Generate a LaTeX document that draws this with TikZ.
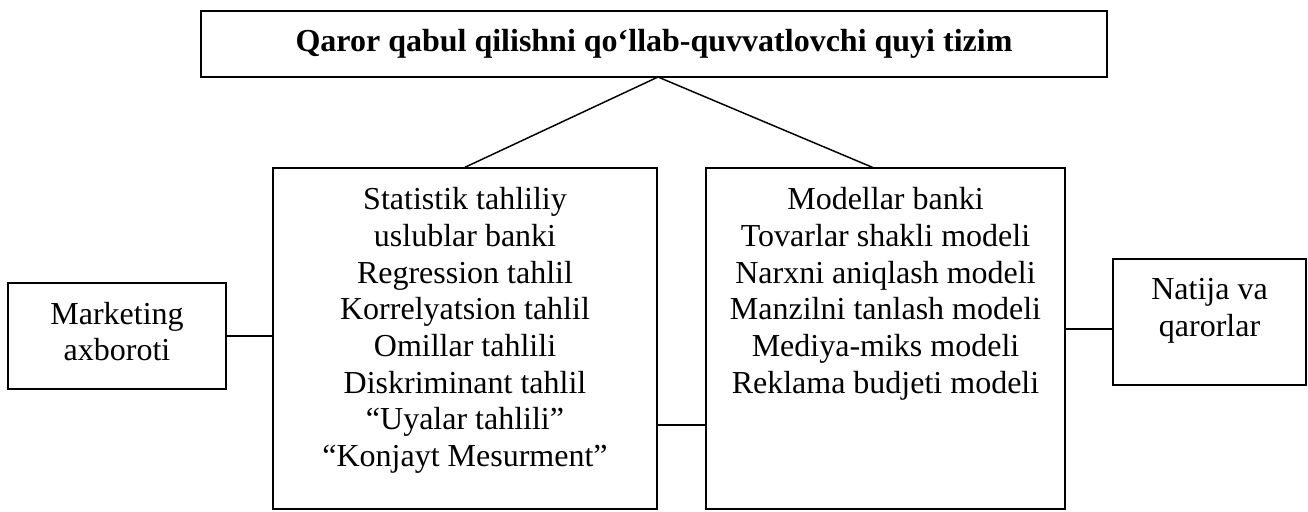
\documentclass[tikz,border=0pt]{standalone}
\usepackage{fontspec}
\setmainfont{Liberation Serif}
\usetikzlibrary{calc}
\begin{document}
\begin{tikzpicture}[x=0.75pt,y=-0.75pt,
  frame/.style={draw, line width=1.1pt, inner sep=0pt},
  body/.style={inner sep=0pt, align=center, anchor=north,
    font=\fontsize{24pt}{27.5pt}\selectfont},
  link/.style={line width=1.1pt}]
\useasboundingbox (0,0) rectangle (1308,511);

% heading box
\node[frame, minimum width=679.5pt, minimum height=49.5pt,
      font=\fontsize{24pt}{27.5pt}\selectfont\bfseries] (sub) at (654,44)
  {Qaror qabul qilishni qo‘llab-quvvatlovchi quyi tizim};

% input, method bank, model bank, output frames
\node[frame, minimum width=163.5pt, minimum height=79.5pt] (mkt) at (117,336) {};
\node[frame, minimum width=288pt, minimum height=255.75pt] (stat) at (465,338.5) {};
\node[frame, minimum width=269.25pt, minimum height=255.75pt] (model) at (885.5,338.5) {};
\node[frame, minimum width=144.75pt, minimum height=94.5pt] (res) at (1209.5,322) {};

% their texts, set from the top edge
\node[body] (mktT) at ([yshift=-14.5pt]mkt.north) {Marketing\\axboroti};
\node[body] (statT) at ([yshift=-15pt]stat.north)
  {Statistik tahliliy\\uslublar banki\\Regression tahlil\\Korrelyatsion tahlil\\
   Omillar tahlili\\Diskriminant tahlil\\“Uyalar tahlili”\\“Konjayt Mesurment”};
\node[body] (modelT) at ([yshift=-15pt]model.north)
  {Modellar banki\\Tovarlar shakli modeli\\Narxni aniqlash modeli\\
   Manzilni tanlash modeli\\Mediya-miks modeli\\Reklama budjeti modeli};
\node[body] (resT) at ([yshift=-15pt]res.north) {Natija va\\qarorlar};

% connectors
\coordinate (apex) at (658,77);
\coordinate (rfoot) at (874,168);
\coordinate (midy) at (0,425);
\coordinate (outy) at (0,329);
\draw[link] (stat.north) -- (apex) -- (rfoot);
\draw[link] (mkt.east) -- (mkt.east -| stat.west);
\draw[link] (stat.east |- midy) -- (model.west |- midy);
\draw[link] (model.east |- outy) -- (res.west |- outy);
\end{tikzpicture}
\end{document}
